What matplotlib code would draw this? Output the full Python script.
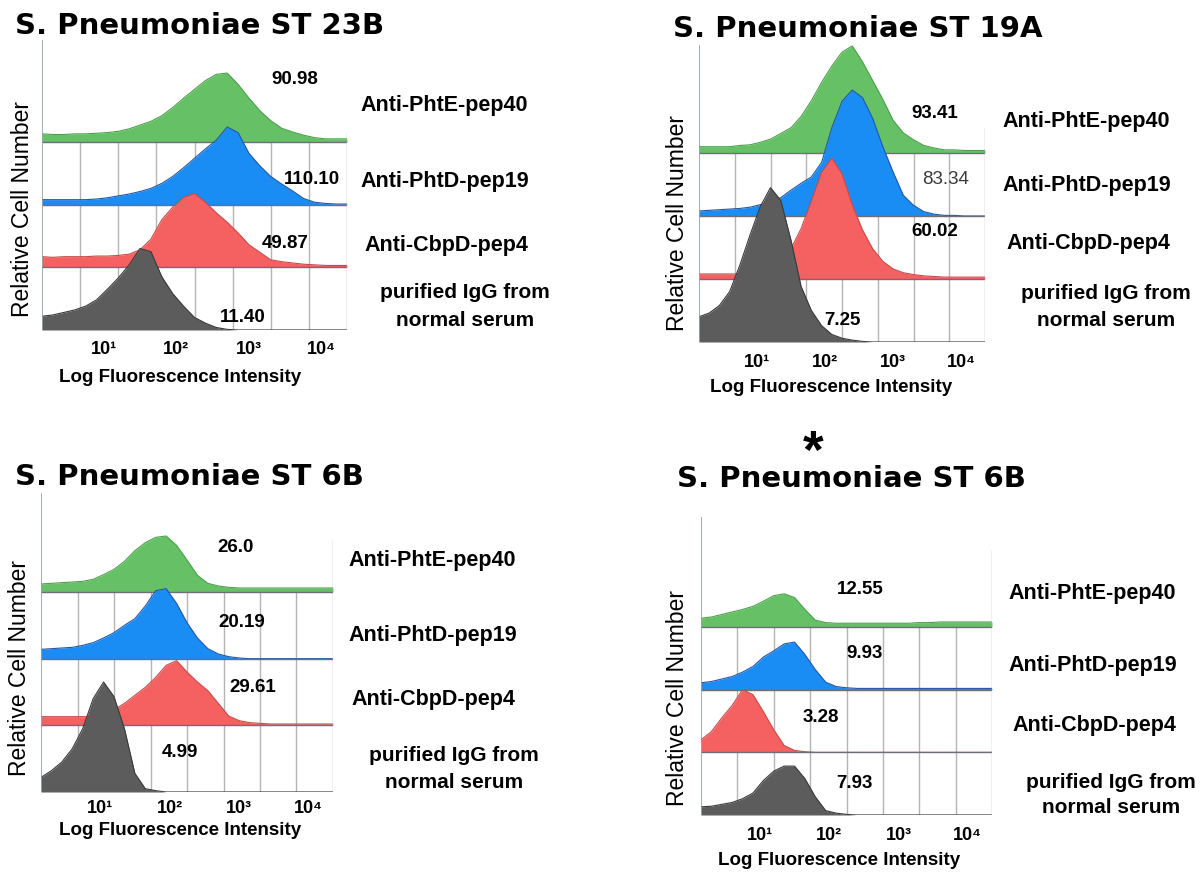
import numpy as np
import matplotlib
matplotlib.use('Agg')
import matplotlib.pyplot as plt
from matplotlib import transforms

plt.rcParams['font.family'] = ['Liberation Sans', 'DejaVu Sans']

W, H = 1203, 872

# log10 fluorescence positions shared by every histogram
LOG_BINS = [0.15, 0.30, 0.45, 0.60, 0.75, 0.90, 1.05, 1.20, 1.35, 1.50,
            1.65, 1.80, 1.95, 2.10, 2.25, 2.40, 2.55, 2.70, 2.85, 3.00,
            3.15, 3.30, 3.45, 3.60, 3.75, 3.90, 4.05, 4.20, 4.35]
XMIN, XMAX = 0.15, 4.35
TICK_POS = [1, 2, 3, 4]
TICK_LABELS = ['10¹', '10²', '10³', '10⁴']

# relative cell number (in units of one row height)
ST23B_PHTE = [0.13, 0.12, 0.12, 0.13, 0.13, 0.14, 0.15, 0.17, 0.21, 0.27, 0.33, 0.42, 0.55, 0.70, 0.84,
              0.98, 1.08, 1.10, 0.92, 0.70, 0.50, 0.34, 0.22, 0.16, 0.11, 0.07, 0.05, 0.05, 0.05]
ST23B_PHTD = [0.08, 0.08, 0.08, 0.08, 0.08, 0.09, 0.11, 0.14, 0.17, 0.21, 0.26, 0.34, 0.45, 0.59, 0.74,
              0.89, 1.03, 1.24, 1.15, 0.82, 0.62, 0.45, 0.33, 0.22, 0.10, 0.04, 0.02, 0.01, 0.01]
ST23B_CBPD = [0.17, 0.16, 0.17, 0.17, 0.17, 0.18, 0.18, 0.19, 0.21, 0.28, 0.45, 0.76, 0.96, 1.12, 1.18,
              1.04, 0.87, 0.72, 0.55, 0.36, 0.24, 0.12, 0.09, 0.07, 0.05, 0.04, 0.03, 0.03, 0.03]
ST23B_IGG = [0.22, 0.24, 0.28, 0.32, 0.38, 0.48, 0.65, 0.83, 1.04, 1.30, 1.25, 0.85, 0.58, 0.38, 0.20,
             0.11, 0.04, 0.01, 0, 0, 0, 0, 0, 0, 0, 0, 0, 0, 0]

ST19A_PHTE = [0.10, 0.10, 0.10, 0.10, 0.12, 0.13, 0.17, 0.22, 0.31, 0.40, 0.58, 0.83, 1.12, 1.38, 1.60,
              1.70, 1.45, 1.15, 0.85, 0.52, 0.32, 0.21, 0.12, 0.08, 0.05, 0.05, 0.04, 0.04, 0.04]
ST19A_PHTD = [0.08, 0.09, 0.10, 0.11, 0.12, 0.14, 0.18, 0.22, 0.29, 0.41, 0.52, 0.62, 0.85, 1.40, 1.82,
              2.00, 1.88, 1.55, 1.10, 0.70, 0.33, 0.17, 0.07, 0.03, 0.01, 0.01, 0, 0, 0]
ST19A_CBPD = [0.08, 0.08, 0.08, 0.08, 0.08, 0.08, 0.08, 0.08, 0.12, 0.48, 0.80, 1.25, 1.70, 1.92, 1.67,
              1.18, 0.78, 0.48, 0.28, 0.16, 0.10, 0.07, 0.05, 0.04, 0.03, 0.03, 0.03, 0.03, 0.03]
ST19A_IGG = [0.40, 0.46, 0.58, 0.80, 1.22, 1.70, 2.15, 2.45, 2.25, 1.62, 0.88, 0.50, 0.26, 0.12, 0.06,
             0.03, 0.01, 0, 0, 0, 0, 0, 0, 0, 0, 0, 0, 0, 0]

ST6B_PHTE = [0.12, 0.13, 0.14, 0.15, 0.16, 0.19, 0.26, 0.34, 0.46, 0.62, 0.74, 0.82, 0.84, 0.70, 0.48,
             0.25, 0.13, 0.09, 0.07, 0.06, 0.06, 0.06, 0.06, 0.06, 0.06, 0.06, 0.06, 0.06, 0.06]
ST6B_PHTD = [0.14, 0.15, 0.16, 0.17, 0.20, 0.24, 0.31, 0.39, 0.50, 0.60, 0.79, 1.02, 1.05, 0.83, 0.54,
             0.31, 0.15, 0.07, 0.03, 0.01, 0, 0, 0, 0, 0, 0, 0, 0, 0]
ST6B_CBPD = [0.13, 0.13, 0.13, 0.13, 0.13, 0.13, 0.17, 0.23, 0.33, 0.45, 0.57, 0.72, 0.90, 0.97, 0.80,
             0.65, 0.52, 0.33, 0.14, 0.07, 0.04, 0.03, 0.02, 0.02, 0.02, 0.02, 0.02, 0.02, 0.02]
ST6B_IGG = [0.22, 0.32, 0.45, 0.65, 0.95, 1.40, 1.65, 1.43, 0.95, 0.28, 0.05, 0.02, 0, 0, 0,
            0, 0, 0, 0, 0, 0, 0, 0, 0, 0, 0, 0, 0, 0]

ST6B2_PHTE = [0.14, 0.16, 0.20, 0.24, 0.28, 0.33, 0.41, 0.50, 0.53, 0.47, 0.28, 0.11, 0.07, 0.06, 0.06,
              0.06, 0.06, 0.06, 0.06, 0.06, 0.06, 0.07, 0.07, 0.08, 0.08, 0.08, 0.08, 0.08, 0.08]
ST6B2_PHTD = [0.11, 0.13, 0.17, 0.21, 0.28, 0.37, 0.52, 0.62, 0.73, 0.76, 0.56, 0.32, 0.12, 0.05, 0.03,
              0.02, 0.02, 0.02, 0.02, 0.02, 0.02, 0.02, 0.02, 0.02, 0.02, 0.02, 0.02, 0.02, 0.02]
ST6B2_CBPD = [0.20, 0.33, 0.55, 0.75, 1.00, 0.92, 0.65, 0.36, 0.11, 0.03, 0.01, 0, 0, 0, 0,
              0, 0, 0, 0, 0, 0, 0, 0, 0, 0, 0, 0, 0, 0]
ST6B2_IGG = [0.13, 0.14, 0.17, 0.20, 0.26, 0.35, 0.55, 0.70, 0.78, 0.78, 0.58, 0.29, 0.07, 0.03, 0.01,
             0, 0, 0, 0, 0, 0, 0, 0, 0, 0, 0, 0, 0, 0]

TITLES = ['S. Pneumoniae ST 23B', 'S. Pneumoniae ST 19A', 'S. Pneumoniae ST 6B', 'S. Pneumoniae ST 6B']
MFI_23B = ['90.98', '110.10', '49.87', '11.40']
MFI_19A = ['93.41', '83.34', '60.02', '7.25']
MFI_6B = ['26.0', '20.19', '29.61', '4.99']
MFI_6B2 = ['12.55', '9.93', '3.28', '7.93']
ANTIBODIES = ['Anti-PhtE-pep40', 'Anti-PhtD-pep19', 'Anti-CbpD-pep4']
CONTROL = ['purified IgG from', 'normal serum']

FILLS = ['#66c166', '#1a8df5', '#f56060', '#5c5c5c']
EDGES = ['#4aa24a', '#2356a8', '#c94a4a', '#3a3a3a']

# panel layout in picture pixels
panels = [
    dict(hists=[ST23B_PHTE, ST23B_PHTD, ST23B_CBPD, ST23B_IGG], mfi=MFI_23B,
         left=42, right=347, top=40, green=142, gray=330, redge=133,
         title=(15, 34), ylab=(23, 209), ticks_y=350, xlab=(180, 377),
         mfi_xy=[(295, 80), (312, 180), (285, 243), (243, 318)],
         lab_xy=[(360, 106), (360, 182), (364, 245)], ctrl=(465, 292, 320)),
    dict(hists=[ST19A_PHTE, ST19A_PHTD, ST19A_CBPD, ST19A_IGG], mfi=MFI_19A,
         left=699, right=985, top=45, green=153, gray=342, redge=127,
         title=(673, 37), ylab=(677, 223), ticks_y=362, xlab=(831, 387),
         mfi_xy=[(935, 113), (946, 180), (935, 232), (842, 320)],
         lab_xy=[(1002, 122), (1002, 185), (1006, 243)], ctrl=(1106, 293, 320)),
    dict(hists=[ST6B_PHTE, ST6B_PHTD, ST6B_CBPD, ST6B_IGG], mfi=MFI_6B,
         left=41, right=333, top=493, green=592, gray=792, redge=540,
         title=(15, 485), ylab=(20, 668), ticks_y=808, xlab=(180, 830),
         mfi_xy=[(236, 547), (242, 622), (253, 687), (180, 752)],
         lab_xy=[(348, 560), (348, 635), (351, 700)], ctrl=(454, 755, 782)),
    dict(hists=[ST6B2_PHTE, ST6B2_PHTD, ST6B2_CBPD, ST6B2_IGG], mfi=MFI_6B2,
         left=701, right=992, top=517, green=627, gray=815, redge=550,
         title=(677, 487), ylab=(678, 698), ticks_y=835, xlab=(839, 860),
         mfi_xy=[(860, 590), (865, 653), (821, 717), (854, 783)],
         lab_xy=[(1008, 593), (1008, 665), (1012, 725)], ctrl=(1111, 782, 807)),
]


def fx(x):
    return x / W


def fy(y):
    return 1 - y / H


fig = plt.figure(figsize=(W / 100, H / 100), dpi=100)

for i, p in enumerate(panels):
    row = (p['gray'] - p['green']) / 3.0
    ax = fig.add_axes([fx(p['left']), fy(p['gray']), (p['right'] - p['left']) / W,
                       (p['gray'] - p['top']) / H])
    ax.set_xlim(XMIN, XMAX)
    ax.set_ylim(0, (p['gray'] - p['top']) / row)
    ax.axis('off')

    # vertical grid only through the lower three rows
    grid = np.linspace(XMIN, XMAX, 9)[1:-1]
    ax.vlines(grid, 0, 3, color='#b4b4b4', lw=1, zorder=1)
    ax.axvline(XMIN, color='#8a96a3', lw=1.1, zorder=10)
    ax.vlines(XMAX, 0, (p['gray'] - p['redge']) / row, color='#aab4be', lw=1, zorder=10)

    # stacked histograms, lower rows drawn on top
    for k, vals in enumerate(p['hists']):
        base = 3 - k
        y = base + np.array(vals)
        z = 2 + k
        ax.fill_between(LOG_BINS, base, y, color=FILLS[k], lw=0, zorder=z)
        ax.plot(LOG_BINS, y, color=EDGES[k], lw=0.8, zorder=z)
        ax.hlines(base, XMIN, XMAX, color='#6e6e78', lw=1, zorder=z)

    tr = transforms.blended_transform_factory(ax.transData, fig.transFigure)
    for t, lab in zip(TICK_POS, TICK_LABELS):
        ax.text(t, fy(p['ticks_y']), lab, transform=tr, ha='center', va='center',
                fontsize=13, fontweight='bold')

    fig.text(fx(p['title'][0]), fy(p['title'][1]), TITLES[i], fontsize=21,
             fontweight='bold', family='DejaVu Sans', ha='left', va='baseline')
    fig.text(fx(p['ylab'][0]), fy(p['ylab'][1]), 'Relative Cell Number', rotation=90,
             fontsize=16.5, ha='center', va='center')
    fig.text(fx(p['xlab'][0]), fy(p['xlab'][1]), 'Log Fluorescence Intensity',
             fontsize=13.5, fontweight='bold', ha='center', va='center')

    for k, (val, (x, y)) in enumerate(zip(p['mfi'], p['mfi_xy'])):
        plain = (i == 1 and k == 1)
        fig.text(fx(x), fy(y), val, fontsize=13.5,
                 fontweight='normal' if plain else 'bold',
                 color='#3a3a3a' if plain else 'black', ha='center', va='center')

    for lab, (x, y) in zip(ANTIBODIES, p['lab_xy']):
        fig.text(fx(x), fy(y), lab, fontsize=15.5, fontweight='bold', ha='left', va='center')
    cx, y1, y2 = p['ctrl']
    fig.text(fx(cx), fy(y1), CONTROL[0], fontsize=15, fontweight='bold', ha='center', va='center')
    fig.text(fx(cx), fy(y2), CONTROL[1], fontsize=15, fontweight='bold', ha='center', va='center')

fig.text(fx(813), fy(468), '*', fontsize=38, fontweight='bold', ha='center', va='baseline')

fig.savefig('out.png', dpi=100)
